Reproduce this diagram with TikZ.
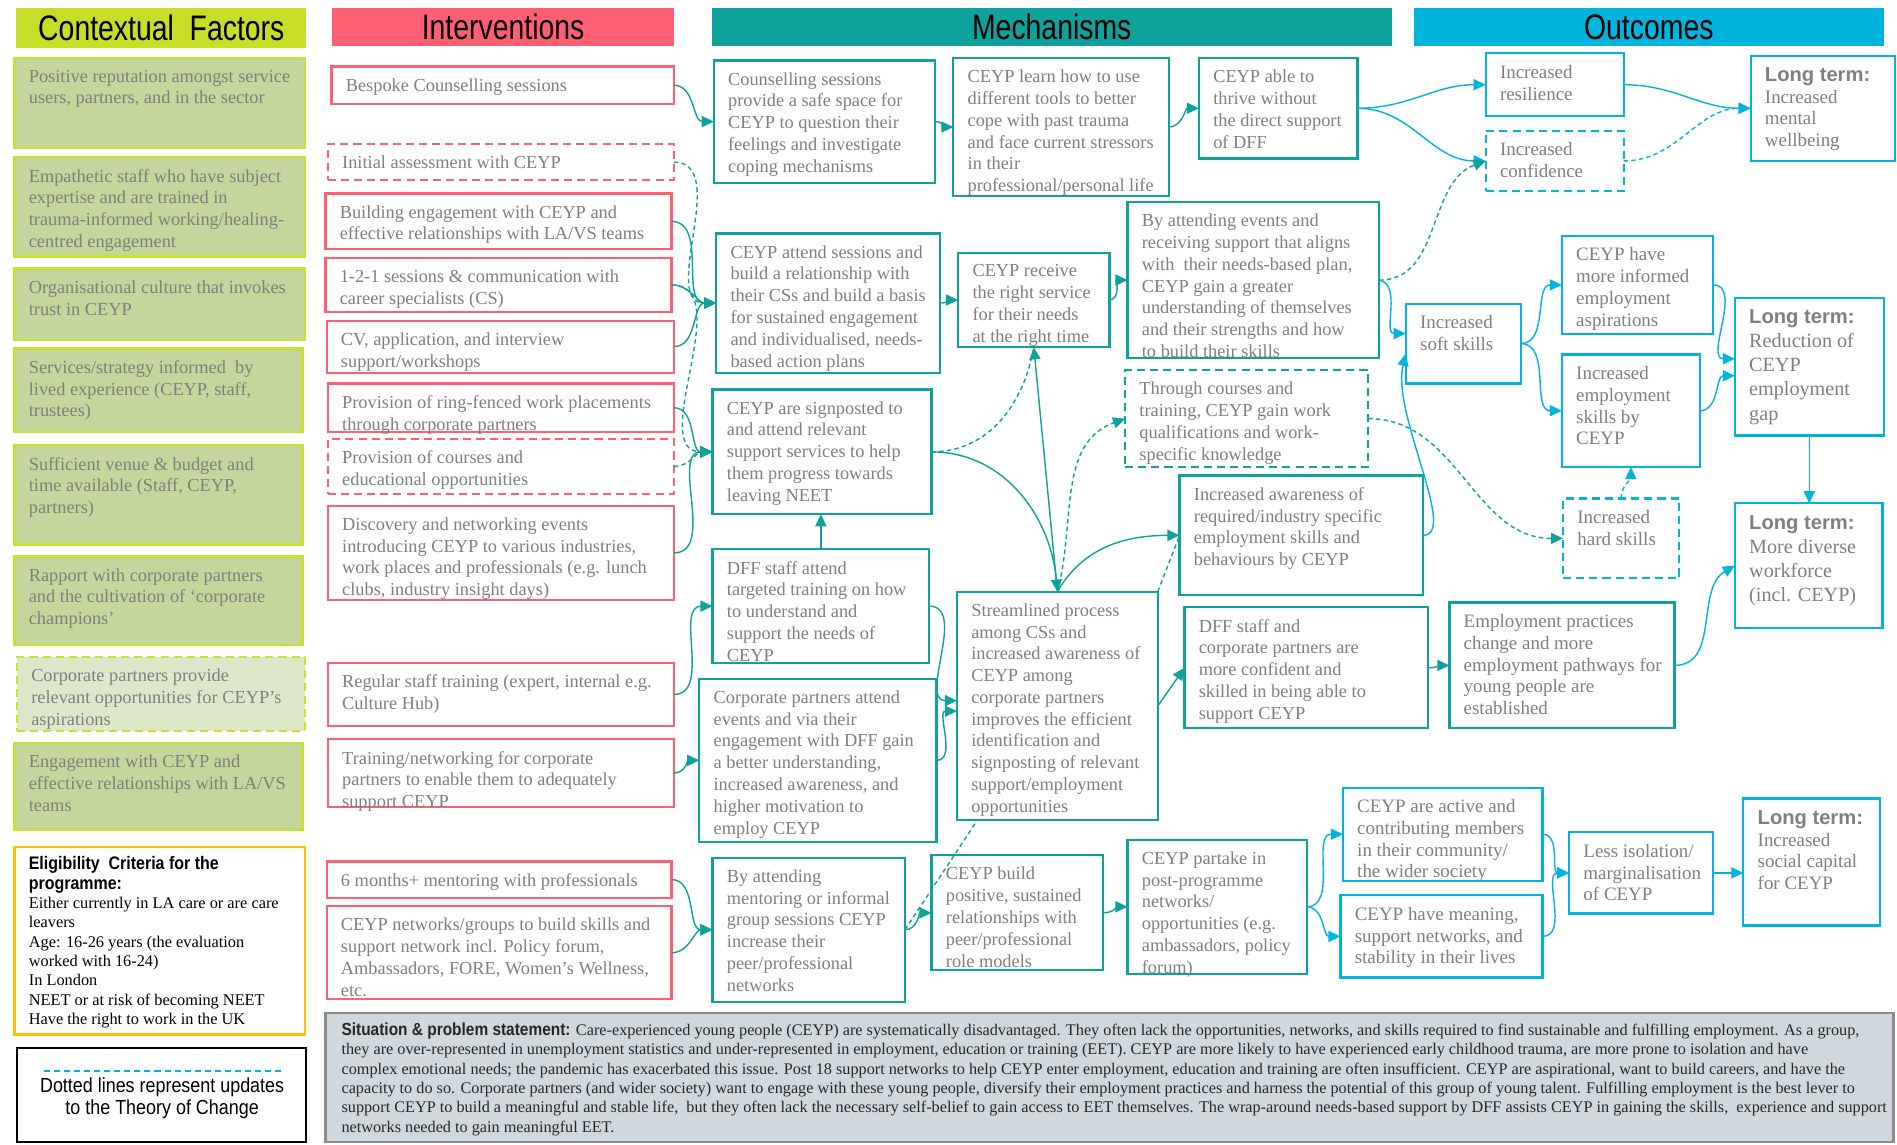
\documentclass[tikz,border=0pt]{standalone}
\usepackage{fontspec}
\setmainfont{Liberation Serif}
\setsansfont{Liberation Sans}
\newfontfamily\hdrfont[FakeStretch=0.8]{Liberation Sans}
\newfontfamily\nbfont[FakeStretch=0.88]{Liberation Sans}
\usetikzlibrary{arrows.meta}
\definecolor{hdrgreen}{HTML}{C8DE26}
\definecolor{ctxfill}{HTML}{C3D69B}
\definecolor{ctxfilll}{HTML}{DDE8C9}
\definecolor{ctxline}{HTML}{C8E030}
\definecolor{pinkc}{HTML}{FF5F73}
\definecolor{tealc}{HTML}{0FA19C}
\definecolor{cyanc}{HTML}{00B4DD}
\definecolor{txtgray}{HTML}{7F7F7F}
\definecolor{sitfill}{HTML}{D0D8DD}
\definecolor{sitline}{HTML}{8C8C8C}
\definecolor{eligline}{HTML}{FFC000}
\tikzset{
  box/.style={draw, rectangle, line width=1.1pt, inner sep=0pt, outer sep=0pt},
  boxdash/.style={dash pattern=on 4pt off 2.5pt},
  ctx/.style={box, draw=ctxline, fill=ctxfill},
  ctxd/.style={box, boxdash, draw=ctxline, fill=ctxfilll},
  ibox/.style={box, draw=pinkc, fill=white},
  iboxd/.style={ibox, boxdash},
  mbox/.style={box, draw=tealc, fill=white},
  mboxd/.style={mbox, boxdash},
  obox/.style={box, draw=cyanc, fill=white},
  oboxd/.style={obox, boxdash},
  txt/.style={anchor=north west, inner sep=0pt, align=left, text=txtgray, font=\fontsize{9.1}{10.8}\selectfont},
  otxt/.style={txt, font=\fontsize{9.4}{10.8}\selectfont},
  ltxt/.style={txt, font=\fontsize{10}{12}\selectfont},
  hdr/.style={rectangle, inner sep=0pt, anchor=north west, font=\hdrfont\fontsize{17.6}{20}\selectfont, text=black},
  tc/.style={draw=tealc, line width=0.7pt, -{Triangle[length=6pt,width=5.5pt]}},
  tcd/.style={tc, dash pattern=on 2.2pt off 1.6pt},
  tcn/.style={draw=tealc, line width=0.7pt},
  tcdn/.style={tcn, dash pattern=on 2.2pt off 1.6pt},
  cc/.style={draw=cyanc, line width=0.7pt, -{Triangle[length=6pt,width=5.5pt]}},
  ccd/.style={cc, dash pattern=on 2.2pt off 1.6pt},
  ccdn/.style={draw=cyanc, line width=0.9pt, dash pattern=on 3pt off 2pt},
}
\newcommand{\bx}[8]{%
  \node[#1, anchor=north west, minimum width={(#6-#4)*0.6pt}, minimum height={(#7-#5)*0.6pt}] (#3) at (#4,-#5) {};
  \node[#2] (#3t) at ([xshift=6.9pt,yshift=-5.7pt]#3.north west) {#8};
}
\newcommand{\LT}{{\sffamily\bfseries\fontsize{10}{10.8}\selectfont Long term:}}
\begin{document}
\begin{tikzpicture}[x=0.6pt,y=0.6pt]
\useasboundingbox (0,0) rectangle (1568,-946);
\fill[white] (0,0) rectangle (1568,-946);
% headers
\node[hdr, fill=hdrgreen, minimum width=240*0.6pt, minimum height=33*0.6pt] (hC) at (13,-6) {Contextual~ Factors};
\node[hdr, fill=pinkc, minimum width=283*0.6pt, minimum height=32*0.6pt] (hI) at (274,-6) {Interventions};
\node[hdr, fill=tealc, minimum width=562*0.6pt, minimum height=32*0.6pt] (hM) at (588,-6) {Mechanisms};
\node[hdr, fill=cyanc, minimum width=389*0.6pt, minimum height=32*0.6pt] (hO) at (1168,-6) {Outcomes};
% contextual factors
\bx{ctx}{txt}{C1}{12}{48}{252}{122}{Positive reputation amongst service\\users, partners, and in the sector}
\bx{ctx}{txt}{C2}{12}{130}{252}{212}{Empathetic staff who have subject\\expertise and are trained in\\trauma-informed working/healing-\\centred engagement}
\bx{ctx}{txt}{C3}{12}{222}{252}{281}{Organisational culture that invokes\\trust in CEYP}
\bx{ctx}{txt}{C4}{12}{288}{250}{357}{Services/strategy informed~ by\\lived experience (CEYP, staff,\\trustees)}
\bx{ctx}{txt}{C5}{12}{368}{250}{450}{Sufficient venue \& budget and\\time available (Staff, CEYP,\\partners)}
\bx{ctx}{txt}{C6}{12}{460}{250}{533}{Rapport with corporate partners\\and the cultivation of `corporate\\champions'}
\bx{ctxd}{txt}{C7}{14}{543}{252}{604}{Corporate partners provide\\relevant opportunities for CEYP's\\aspirations}
\bx{ctx}{txt}{C8}{12}{614}{250}{686}{Engagement with CEYP and\\effective relationships with LA/VS\\teams}
% eligibility
\node[box, draw=eligline, fill=white, anchor=north west, minimum width=240*0.6pt, minimum height=155*0.6pt] (EL) at (12,-700) {};
\node[txt, text=black, font=\fontsize{8.1}{9.6}\selectfont] (ELt) at ([xshift=6.9pt,yshift=-4.6pt]EL.north west) {{\nbfont\bfseries\fontsize{9}{9.6}\selectfont Eligibility~ Criteria for the}\\{\nbfont\bfseries\fontsize{9}{9.6}\selectfont programme:}\\Either currently in LA care or are care\\leavers\\Age: 16-26 years (the evaluation\\worked with 16-24)\\In London\\NEET or at risk of becoming NEET\\Have the right to work in the UK};
% legend
\node[box, draw=black, fill=white, anchor=north west, minimum width=239*0.6pt, minimum height=78*0.6pt] (LG) at (14,-866) {};
\coordinate (LGa) at (36,-885);
\coordinate (LGb) at (236,-885);
\draw[ccdn] (LGa) -- (LGb);
\node[inner sep=0pt, align=center, font=\nbfont\fontsize{10.1}{11}\selectfont] (LGt) at (134,-908) {Dotted lines represent updates\\to the Theory of Change};
% interventions
\bx{ibox}{txt}{I1}{274}{55}{557}{86}{Bespoke Counselling sessions}
\bx{iboxd}{txt}{I2}{271}{119}{557}{149}{Initial assessment with CEYP}
\bx{ibox}{txt}{I3}{269}{160}{555}{206}{Building engagement with CEYP and\\effective relationships with LA/VS teams}
\bx{ibox}{txt}{I4}{269}{213}{555}{258}{1-2-1 sessions \& communication with\\career specialists (CS)}
\bx{ibox}{txt}{I5}{270}{265}{557}{308}{CV, application, and interview\\support/workshops}
\bx{ibox}{txt}{I6}{271}{317}{557}{357}{Provision of ring-fenced work placements\\through corporate partners}
\bx{iboxd}{txt}{I7}{271}{363}{557}{408}{Provision of courses and\\educational opportunities}
\bx{ibox}{txt}{I8}{271}{418}{557}{496}{Discovery and networking events\\introducing CEYP to various industries,\\work places and professionals (e.g. lunch\\clubs, industry insight days)}
\bx{ibox}{txt}{I9}{271}{548}{557}{600}{Regular staff training (expert, internal e.g.\\Culture Hub)}
\bx{ibox}{txt}{I10}{271}{611}{557}{667}{Training/networking for corporate\\partners to enable them to adequately\\support CEYP}
\bx{ibox}{txt}{I11}{270}{712}{555}{742}{6 months+ mentoring with professionals}
\bx{ibox}{txt}{I12}{270}{749}{555}{826}{CEYP networks/groups to build skills and\\support network incl. Policy forum,\\Ambassadors, FORE, Women's Wellness,\\etc.}
% mechanisms
\bx{mbox}{txt}{M1}{590}{50}{773}{151}{Counselling sessions\\provide a safe space for\\CEYP to question their\\feelings and investigate\\coping mechanisms}
\bx{mbox}{txt}{M2}{788}{48}{966}{162}{CEYP learn how to use\\different tools to better\\cope with past trauma\\and face current stressors\\in their\\professional/personal life}
\bx{mbox}{txt}{M3}{991}{48}{1122}{131}{CEYP able to\\thrive without\\the direct support\\of DFF}
\bx{mbox}{txt}{M4}{592}{193}{777}{308}{CEYP attend sessions and\\build a relationship with\\their CSs and build a basis\\for sustained engagement\\and individualised, needs-\\based action plans}
\bx{mbox}{txt}{M5}{792}{209}{917}{287}{CEYP receive\\the right service\\for their needs\\at the right time}
\bx{mbox}{txt}{M6}{932}{167}{1140}{296}{By attending events and\\receiving support that aligns\\with~ their needs-based plan,\\CEYP gain a greater\\understanding of themselves\\and their strengths and how\\to build their skills}
\bx{mboxd}{txt}{M7}{930}{306}{1131}{386}{Through courses and\\training, CEYP gain work\\qualifications and work-\\specific knowledge}
\bx{mbox}{txt}{M8}{589}{322}{770}{425}{CEYP are signposted to\\and attend relevant\\support services to help\\them progress towards\\leaving NEET}
\bx{mbox}{txt}{M9}{975}{393}{1176}{492}{Increased awareness of\\required/industry specific\\employment skills and\\behaviours by CEYP}
\bx{mbox}{txt}{M10}{589}{454}{768}{548}{DFF staff attend\\targeted training on how\\to understand and\\support the needs of\\CEYP}
\bx{mbox}{txt}{M11}{791}{489}{957}{678}{Streamlined process\\among CSs and\\increased awareness of\\CEYP among\\corporate partners\\improves the efficient\\identification and\\signposting of relevant\\support/employment\\opportunities}
\bx{mbox}{txt}{M12}{979}{502}{1180}{602}{DFF staff and\\corporate partners are\\more confident and\\skilled in being able to\\support CEYP}
\bx{mbox}{txt}{M13}{578}{561}{774}{696}{Corporate partners attend\\events and via their\\engagement with DFF gain\\a better understanding,\\increased awareness, and\\higher motivation to\\employ CEYP}
\bx{mbox}{txt}{M14}{589}{709}{748}{828}{By attending\\mentoring or informal\\group sessions CEYP\\increase their\\peer/professional\\networks}
\bx{mbox}{txt}{M15}{770}{707}{912}{802}{CEYP build\\positive, sustained\\relationships with\\peer/professional\\role models}
\bx{mbox}{txt}{M16}{932}{694}{1080}{805}{CEYP partake in\\post-programme\\networks/\\opportunities (e.g.\\ambassadors, policy\\forum)}
\bx{mbox}{otxt}{M17}{1198}{498}{1384}{602}{Employment practices\\change and more\\employment pathways for\\young people are\\established}
% outcomes
\bx{obox}{otxt}{O1}{1228}{44}{1342}{96}{Increased\\resilience}
\bx{oboxd}{otxt}{O2}{1228}{108}{1342}{158}{Increased\\confidence}
\bx{obox}{otxt}{O3}{1447}{46}{1566}{133}{\LT\\Increased\\mental\\wellbeing}
\bx{obox}{otxt}{O4}{1162}{251}{1257}{317}{Increased\\soft skills}
\bx{obox}{otxt}{O5}{1291}{195}{1416}{276}{CEYP have\\more informed\\employment\\aspirations}
\bx{obox}{otxt}{O6}{1291}{293}{1405}{386}{Increased\\employment\\skills by\\CEYP}
\bx{obox}{ltxt}{O7}{1434}{246}{1557}{360}{\LT\\Reduction of\\CEYP\\employment\\gap}
\bx{oboxd}{otxt}{O8}{1292}{412}{1388}{478}{Increased\\hard skills}
\bx{obox}{ltxt}{O9}{1434}{416}{1556}{519}{\LT\\More diverse\\workforce\\(incl. CEYP)}
\bx{obox}{otxt}{O10}{1110}{651}{1275}{728}{CEYP are active and\\contributing members\\in their community/\\the wider society}
\bx{obox}{otxt}{O11}{1108}{740}{1275}{808}{CEYP have meaning,\\support networks, and\\stability in their lives}
\bx{obox}{otxt}{O12}{1297}{688}{1416}{755}{Less isolation/\\marginalisation\\of CEYP}
\bx{obox}{otxt}{O13}{1441}{660}{1554}{765}{\LT\\Increased\\social capital\\for CEYP}
% situation
\node[box, draw=sitline, fill=sitfill, anchor=north west, minimum width=1296*0.6pt, minimum height=107*0.6pt] (SIT) at (269,-837) {};
\node[txt, text=black!85, font=\fontsize{8.05}{9.6}\selectfont] (SITt) at ([xshift=7.8pt,yshift=-4.8pt]SIT.north west) {{\nbfont\bfseries\fontsize{8.7}{9.6}\selectfont Situation \& problem statement:} Care-experienced young people (CEYP) are systematically disadvantaged. They often lack the opportunities, networks, and skills required to find sustainable and fulfilling employment. As a group,\\they are over-represented in unemployment statistics and under-represented in employment, education or training (EET). CEYP are more likely to have experienced early childhood trauma, are more prone to isolation and have\\complex emotional needs; the pandemic has exacerbated this issue. Post 18 support networks to help CEYP enter employment, education and training are often insufficient. CEYP are aspirational, want to build careers, and have the\\capacity to do so. Corporate partners (and wider society) want to engage with these young people, diversify their employment practices and harness the potential of this group of young talent. Fulfilling employment is the best lever to\\support CEYP to build a meaningful and stable life,~ but they often lack the necessary self-belief to gain access to EET themselves. The wrap-around needs-based support by DFF assists CEYP in gaining the skills,~ experience and support\\networks needed to gain meaningful EET.};
% connectors: interventions -> mechanisms
\draw[tc] (I1.east) to[out=0,in=180] (M1.west);
\draw[tcd] (I2.east) to[out=0,in=180] (M4.west);
\draw[tc] (I3.east) to[out=0,in=180] (M4.west);
\draw[tc] (I4.east) to[out=0,in=180] (M4.west);
\draw[tcd] (I4.east) to[out=0,in=180] (M8.west);
\draw[tc] (I5.east) to[out=0,in=180] (M4.west);
\draw[tc] (I6.east) to[out=0,in=180] (M8.west);
\draw[tcd] (I7.east) to[out=0,in=180] (M8.west);
\draw[tc] (I8.east) to[out=0,in=180] (M8.west);
\draw[tc] (I9.east) to[out=0,in=180] (M10.west);
\draw[tc] (I10.east) to[out=0,in=180] (M13.west);
\draw[tc] (I11.east) to[out=0,in=180] (M14.west);
\draw[tc] (I12.east) to[out=0,in=180] (M14.west);
% mechanisms
\draw[tc] (M1.east) to[out=0,in=180] (M2.west);
\draw[tc] (M2.east) to[out=0,in=180] (M3.west);
\draw[tc] (M4.east) to[out=0,in=180] (M5.west);
\draw[tc] (M5.east) to[out=0,in=180] (M6.west);
\draw[tc] (M10.north) -- (M10.north |- M8.south);
\draw[tcdn] (M8.east) to[out=0,in=-100] (M5.south);
\draw[tc] (M8.east) to[out=0,in=95] (M11.north);
\draw[tc] (M11.north) -- (M5.south);
\draw[tcd] (M11.north) to[out=75,in=200] (M7.west);
\draw[tc] (M11.north) to[out=60,in=180] (M9.west);
\draw[tcdn] (M11.north east) -- (M9.west);
\draw[tc] (M10.east) to[out=0,in=180] (M11.177);
\draw[tc] (M13.east) to[out=0,in=180] (M11.183);
\draw[tc] (M11.east) -- (M12.west);
\draw[tc] (M12.east) to[out=0,in=180] (M17.west);
\draw[tc] (M14.east) to[out=0,in=180] (M15.west);
\draw[tcdn] (M14.east) -- (M11.235);
\draw[tc] (M15.east) to[out=0,in=180] (M16.west);
% outcomes
\draw[cc] (M17.east) to[out=0,in=210] (O9.west);
\draw[cc] (M16.east) to[out=0,in=180] (O10.west);
\draw[cc] (M16.east) to[out=0,in=180] (O11.west);
\draw[cc] (O10.east) to[out=0,in=180] (O12.west);
\draw[cc] (O11.east) to[out=0,in=180] (O12.west);
\draw[cc] (O12.east) -- (O12.east -| O13.west);
\draw[cc] (M3.east) to[out=0,in=180] (O1.west);
\draw[cc] (M3.east) to[out=0,in=180] (O2.west);
\draw[cc] (O1.east) to[out=0,in=180] (O3.west);
\draw[ccd] (O2.east) to[out=0,in=180] (O3.west);
\draw[tcd] (M6.east) to[out=0,in=200] (O2.west);
\draw[cc] (M6.east) to[out=-10,in=180] (O4.170);
\draw[cc] (M9.east) .. controls +(30,0) and +(-12,-50) .. (O4.190);
\draw[tcd] (M7.east) to[out=0,in=180] (O8.west);
\draw[cc] (O4.east) to[out=0,in=180] (O5.west);
\draw[cc] (O4.east) to[out=0,in=180] (O6.west);
\draw[cc] (O5.east) to[out=0,in=180] (O7.174);
\draw[cc] (O6.east) to[out=0,in=180] (O7.187);
\draw[ccd] (O8.north) to[out=90,in=-90] (O6.south);
\draw[cc] (O7.south) -- (O7.south |- O9.north);
\end{tikzpicture}
\end{document}
